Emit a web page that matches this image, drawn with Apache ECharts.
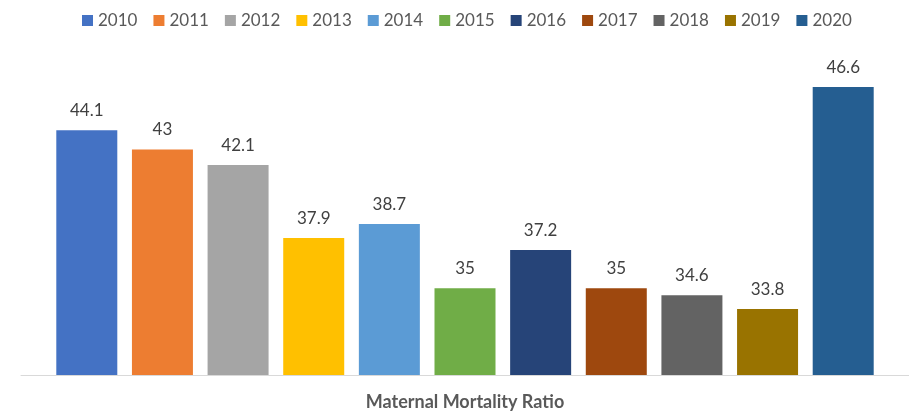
<!DOCTYPE html>
<html>
<head>
<meta charset="utf-8">
<script src="https://cdn.jsdelivr.net/npm/echarts@6/dist/echarts.min.js"></script>
<style>
  html, body { margin: 0; padding: 0; background: #fff; }
  #main { width: 909px; height: 411px; }
</style>
</head>
<body>
<div id="main"></div>
<script>
const categories = ['Maternal Mortality Ratio']
const years = ['2010', '2011', '2012', '2013', '2014', '2015', '2016', '2017', '2018', '2019', '2020']
const values = [44.1, 43, 42.1, 37.9, 38.7, 35, 37.2, 35, 34.6, 33.8, 46.6]
const colors = ['#4472C4', '#ED7D31', '#A5A5A5', '#FFC000', '#5B9BD5', '#70AD47',
  '#264478', '#9E480E', '#636363', '#997300', '#255E91']

const font = 'Lato, "Open Sans", sans-serif'
const chart = echarts.init(document.getElementById('main'))

const series = years.map((y, i) => ({
  name: y,
  type: 'bar',
  data: [values[i]],
  barWidth: 61,
  barGap: '24%',
  itemStyle: { color: colors[i] },
  label: {
    show: true,
    position: 'top',
    distance: 11,
    color: '#404040',
    fontSize: 17,
    fontFamily: font,
  },
}))

const option = {
  animation: false,
  textStyle: { fontFamily: font },
  legend: {
    top: 7,
    left: 77,
    itemWidth: 11,
    itemHeight: 11,
    itemGap: 16,
    icon: 'rect',
    textStyle: { color: '#595959', fontSize: 17, fontFamily: font },
    data: years,
  },
  grid: { left: 21, right: 0, top: 28, bottom: 36, containLabel: false },
  xAxis: {
    type: 'category',
    data: categories,
    axisTick: { show: false },
    axisLine: { lineStyle: { color: '#D9D9D9', width: 1 } },
    axisLabel: {
      color: '#595959',
      fontSize: 18,
      fontWeight: 'bold',
      fontFamily: font,
      margin: 18,
    },
  },
  yAxis: {
    type: 'value',
    min: 30,
    max: 50,
    show: false,
    splitLine: { show: false },
  },
  series: series,
}
chart.setOption(option)
</script>
</body>
</html>
